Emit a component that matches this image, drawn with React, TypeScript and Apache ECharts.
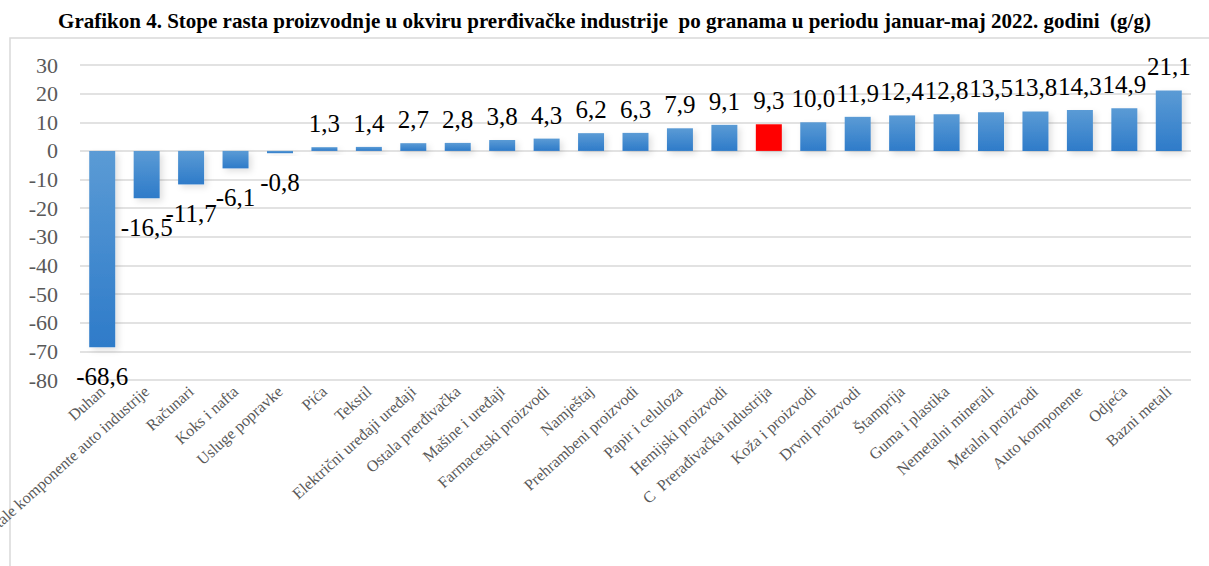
import React, { useEffect, useRef } from "react";
import * as echarts from "echarts";

const titleText =
  "Grafikon 4. Stope rasta proizvodnje u okviru prerđivačke industrije  po granama u periodu januar-maj 2022. godini  (g/g)";

const categories = [
  "Duhan",
  "Ostale komponente auto industrije",
  "Računari",
  "Koks i nafta",
  "Usluge popravke",
  "Pića",
  "Tekstil",
  "Električni uređaji uređaji",
  "Ostala prerđivačka",
  "Mašine i uređaji",
  "Farmacetski proizvodi",
  "Namještaj",
  "Prehrambeni proizvodi",
  "Papir i celuloza",
  "Hemijski proizvodi",
  "C  Prerađivačka industrija",
  "Koža i proizvodi",
  "Drvni proizvodi",
  "Štamprija",
  "Guma i plastika",
  "Nemetalni minerali",
  "Metalni proizvodi",
  "Auto komponente",
  "Odjeća",
  "Bazni metali",
];

const values = [
  -68.6, -16.5, -11.7, -6.1, -0.8, 1.3, 1.4, 2.7, 2.8, 3.8, 4.3, 6.2, 6.3, 7.9,
  9.1, 9.3, 10.0, 11.9, 12.4, 12.8, 13.5, 13.8, 14.3, 14.9, 21.1,
];

const highlighted = ["C  Prerađivačka industrija"];

const yMin = -80;
const yMax = 30;
const yStep = 10;

const SERIF = "'Liberation Serif', 'Times New Roman', serif";

export default function App() {
  const ref = useRef<HTMLDivElement>(null);

  useEffect(() => {
    document.body.style.margin = "0";
    if (!ref.current) return;
    const chart = echarts.init(ref.current, null, { renderer: "svg" });
    const blueGrad = new echarts.graphic.LinearGradient(0, 0, 0, 1, [
      { offset: 0, color: "#5B9BD5" },
      { offset: 1, color: "#2E7BC9" },
    ]);
    const data = values.map((v, i) => ({
      value: v,
      itemStyle: {
        color: highlighted.includes(categories[i]) ? "#FF0000" : blueGrad,
      },
      label: {
        position: v < 0 ? "bottom" : "top",
        distance: v < 0 ? 17 : 11,
      },
    }));
    chart.setOption({
      animation: false,
      backgroundColor: "#ffffff",
      title: {
        text: titleText,
        left: "center",
        top: 5,
        textStyle: {
          fontFamily: SERIF,
          fontWeight: "bold",
          fontSize: 21,
          color: "#000000",
        },
      },
      graphic: [
        {
          type: "rect",
          shape: { x: 10, y: 38, width: 1220, height: 600 },
          style: { fill: "none", stroke: "#D9D9D9", lineWidth: 1.5 },
          silent: true,
          z: -1,
        },
      ],
      grid: {
        left: 80,
        right: 18,
        top: 65,
        bottom: 186,
        containLabel: false,
        outerBoundsMode: "none",
      },
      xAxis: {
        type: "category",
        data: categories,
        axisLine: { show: false },
        axisTick: { show: false },
        axisLabel: {
          interval: 0,
          rotate: 42,
          margin: 9,
          fontFamily: SERIF,
          fontSize: 16,
          color: "#595959",
        },
      },
      yAxis: {
        type: "value",
        min: yMin,
        max: yMax,
        interval: yStep,
        axisLine: { show: false },
        axisTick: { show: false },
        axisLabel: {
          margin: 22,
          fontFamily: SERIF,
          fontSize: 22,
          color: "#595959",
        },
        splitLine: { lineStyle: { color: "#D9D9D9", width: 1.5 } },
      },
      series: [
        {
          type: "bar",
          data,
          barWidth: 26,
          itemStyle: {
            shadowColor: "rgba(0,0,0,0.12)",
            shadowBlur: 6,
            shadowOffsetX: 3,
            shadowOffsetY: 3,
          },
          label: {
            show: true,
            fontFamily: SERIF,
            fontSize: 25,
            color: "#000000",
            formatter: (p: any) => p.value.toFixed(1).replace(".", ","),
          },
        },
      ],
    });
    return () => chart.dispose();
  }, []);

  return (
    <div
      ref={ref}
      style={{ position: "absolute", left: 0, top: 0, width: 1209, height: 566 }}
    />
  );
}
